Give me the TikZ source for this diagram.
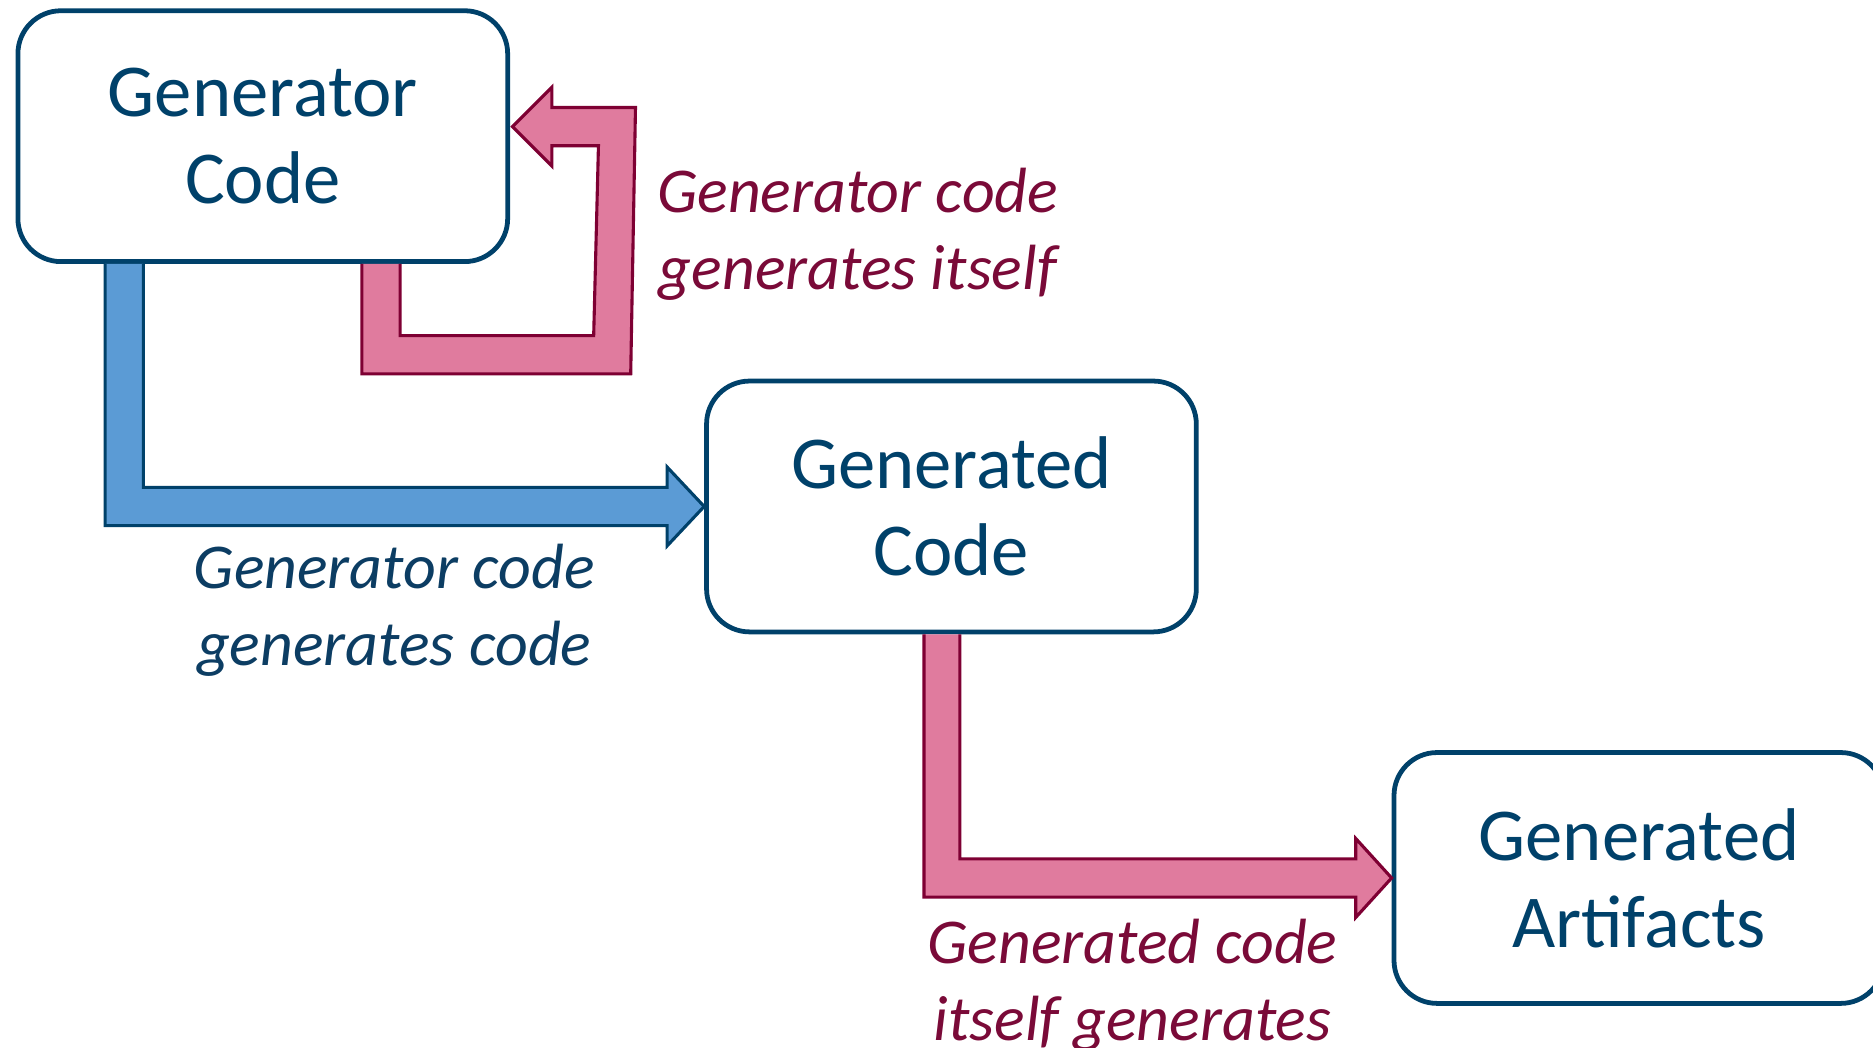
\documentclass[tikz,border=0pt]{standalone}
\usepackage{fontspec}
\setmainfont{Carlito}
\usetikzlibrary{calc}

\definecolor{boxblue}{HTML}{00416A}
\definecolor{arrowblue}{HTML}{5B9BD5}
\definecolor{arrowpink}{HTML}{E07B9E}
\definecolor{pinkedge}{HTML}{7E0033}
\definecolor{labelblue}{HTML}{0C3D63}
\definecolor{labelpink}{HTML}{7A0A38}

\tikzset{
  codebox/.style={draw=boxblue, line width=4pt, rounded corners=36pt, fill=white,
    minimum width=410pt, minimum height=210pt, align=center, text=boxblue,
    font=\fontsize{62.5}{73}\selectfont},
  bluearrow/.style={fill=arrowblue, draw=boxblue, line width=2.6pt, line join=miter},
  pinkarrow/.style={fill=arrowpink, draw=pinkedge, line width=2.6pt, line join=miter},
  arrowlabel/.style={align=center, inner sep=0pt,
    font=\fontsize{53.5}{64}\selectfont\itshape},
}

\begin{document}
\begin{tikzpicture}[x=1pt, y=-1pt]
  \clip (0,0) rectangle (1568,877);

  % the three code boxes
  \node[codebox] (gen)  at (220,114)  {Generator\\Code};
  \node[codebox] (gen2) at (796.5,424) {Generated\\Code};
  \node[codebox] (gen3) at (1372,735) {Generated\\Artifacts};

  % generator code -> generated code
  \coordinate (a) at ($(gen.south west)+(75,0)$);
  \path[bluearrow] (a)
    -- ($(a |- gen2.west)+(0,16)$)
    -- ($(gen2.west)+(-31,16)$)
    -- ($(gen2.west)+(-31,33)$)
    -- (gen2.west)
    -- ($(gen2.west)+(-31,-33)$)
    -- ($(gen2.west)+(-31,-16)$)
    -- ($(a |- gen2.west)+(32,-16)$)
    -- ($(a)+(32,0)$);

  % generator code loops back into itself
  \coordinate (d) at ($(gen.south west)+(290,0)$);
  \coordinate (t) at ($(gen.east)+(2,-8)$);
  \path[pinkarrow] (d)
    -- ++(0,92)
    -- ++(225,0)
    -- ($(t)+(103,-16)$)
    -- ($(t)+(33,-16)$)
    -- ($(t)+(33,-33)$)
    -- (t)
    -- ($(t)+(33,33)$)
    -- ($(t)+(33,16)$)
    -- ($(t)+(72,16)$)
    -- ($(d)+(194,60)$)
    -- ($(d)+(32,60)$)
    -- ($(d)+(32,0)$);

  % generated code -> generated artifacts
  \coordinate (c) at ($(gen2.south west)+(184,0)$);
  \path[pinkarrow] (c)
    -- ($(c |- gen3.west)+(0,16)$)
    -- ($(gen3.west)+(-30,16)$)
    -- ($(gen3.west)+(-30,33)$)
    -- (gen3.west)
    -- ($(gen3.west)+(-30,-33)$)
    -- ($(gen3.west)+(-30,-16)$)
    -- ($(c |- gen3.west)+(30,-16)$)
    -- ($(c)+(30,0)$);

  % labels
  \node[arrowlabel, text=labelblue] (lblue) at (330,511)
    {Generator code\\generates code};
  \node[arrowlabel, text=labelpink, anchor=west] (lloop) at (550,196)
    {Generator code\\generates itself};
  \node[arrowlabel, text=labelpink] (lart) at (948,825)
    {Generated code\\itself generates};
\end{tikzpicture}
\end{document}
